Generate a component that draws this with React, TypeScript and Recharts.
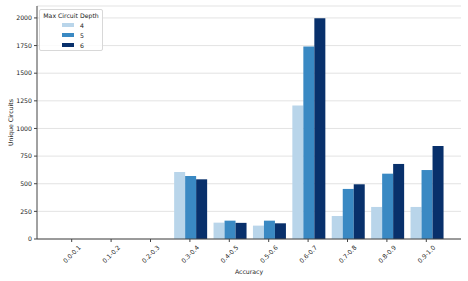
import { BarChart, Bar, XAxis, YAxis, CartesianGrid, Label } from "recharts";

const categories = ["0.0-0.1", "0.1-0.2", "0.2-0.3", "0.3-0.4", "0.4-0.5", "0.5-0.6", "0.6-0.7", "0.7-0.8", "0.8-0.9", "0.9-1.0"];
const depth4 = [0, 0, 0, 606, 148, 121, 1207, 208, 290, 290];
const depth5 = [0, 0, 0, 570, 166, 166, 1741, 453, 591, 624];
const depth6 = [0, 0, 0, 540, 146, 142, 1998, 495, 679, 842];
const yTicks = [0, 250, 500, 750, 1000, 1250, 1500, 1750, 2000];

const series = [
  { key: "d4", label: "4", color: "#b9d5ea", values: depth4 },
  { key: "d5", label: "5", color: "#3a89c3", values: depth5 },
  { key: "d6", label: "6", color: "#08306b", values: depth6 },
];

const data = categories.map((name, i) => {
  const row: Record<string, string | number> = { name };
  series.forEach((s) => (row[s.key] = s.values[i]));
  return row;
});

const FONT = "DejaVu Sans, sans-serif";
const AXIS = "#444";

function XTick({ x, y, payload }: any) {
  return (
    <text
      x={x}
      y={y + 10}
      textAnchor="middle"
      dominantBaseline="central"
      fontSize={6.2}
      fontFamily={FONT}
      fill="#222"
      transform={`rotate(-45 ${x} ${y + 10})`}
    >
      {payload.value}
    </text>
  );
}

export default function App() {
  return (
    <div style={{ position: "absolute", left: 0, top: 0, width: 468, height: 281, background: "#fff" }}>
      <BarChart
        width={468}
        height={281}
        data={data}
        margin={{ top: 6, right: 7, left: 0, bottom: 0 }}
        barCategoryGap="10%"
        barGap={0}
      >
        <CartesianGrid vertical={false} stroke="#dcdcdc" strokeWidth={0.8} />
        <XAxis
          dataKey="name"
          height={42}
          padding={{ left: 15, right: 15 }}
          tick={<XTick />}
          tickLine={{ stroke: AXIS }}
          tickSize={3}
          axisLine={{ stroke: AXIS }}
          interval={0}
        >
          <Label value="Accuracy" position="insideBottom" offset={7} fontSize={6.2} fontFamily={FONT} fill="#222" />
        </XAxis>
        <XAxis xAxisId="top" orientation="top" dataKey="name" height={0} tick={false} tickLine={false} axisLine={{ stroke: AXIS }} />
        <YAxis
          width={37}
          domain={[0, 2108]}
          ticks={yTicks}
          tickSize={3}
          tickMargin={2}
          tickLine={{ stroke: AXIS }}
          axisLine={{ stroke: AXIS }}
          tick={{ fontSize: 6.2, fontFamily: FONT, fill: "#222" }}
          interval={0}
        >
          <Label
            content={({ viewBox }: any) => (
              <text
                x={10}
                y={viewBox.y + viewBox.height / 2}
                textAnchor="middle"
                dominantBaseline="central"
                fontSize={6.2}
                fontFamily={FONT}
                fill="#222"
                transform={`rotate(-90 10 ${viewBox.y + viewBox.height / 2})`}
              >
                Unique Circuits
              </text>
            )}
          />
        </YAxis>
        <YAxis yAxisId="right" orientation="right" width={0} tick={false} tickLine={false} axisLine={{ stroke: AXIS }} />
        {series.map((s) => (
          <Bar key={s.key} dataKey={s.key} name={s.label} fill={s.color} isAnimationActive={false} />
        ))}
      </BarChart>
      <div
        style={{
          position: "absolute",
          left: 39,
          top: 9,
          width: 64,
          height: 42,
          boxSizing: "border-box",
          border: "1px solid #d8d8d8",
          borderRadius: 2,
          background: "rgba(255,255,255,0.85)",
          fontFamily: FONT,
          fontSize: 6.2,
          color: "#222",
        }}
      >
        <div style={{ textAlign: "center", marginTop: 2, lineHeight: "8px" }}>Max Circuit Depth</div>
        {series.map((s) => (
          <div key={s.key} style={{ display: "flex", alignItems: "center", height: 10, paddingLeft: 22 }}>
            <span style={{ display: "inline-block", width: 12, height: 4, background: s.color, marginRight: 6 }} />
            <span>{s.label}</span>
          </div>
        ))}
      </div>
    </div>
  );
}
